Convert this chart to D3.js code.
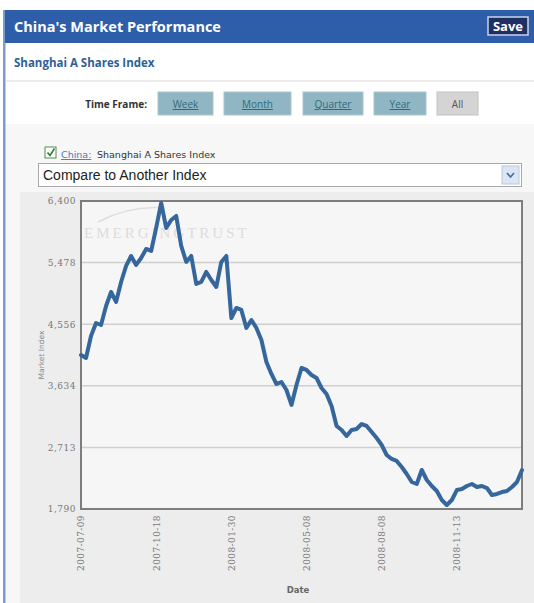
<!DOCTYPE html>
<html><head><meta charset="utf-8">
<script src="https://cdn.jsdelivr.net/npm/d3@7"></script>
<style>
html,body{margin:0;padding:0;background:#fff;}
svg{display:block;}
</style></head>
<body>
<svg id="c" width="534" height="603"></svg>
<script>
// ---- data (weekly samples of the Shanghai A Shares Index) ----
const weekIndex = d3.range(89);
const indexValues = [4095,4050,4380,4574,4544,4829,5038,4889,5188,5428,
 5577,5443,5547,5682,5652,5997,6371,5997,6116,6176,
 5727,5488,5577,5158,5188,5338,5218,5113,5488,5577,
 4649,4799,4769,4500,4619,4500,4320,3991,3811,3661,
 3691,3571,3347,3646,3901,3871,3796,3751,3601,3512,
 3332,3033,2973,2883,2973,2988,3062,3033,2943,2853,
 2748,2598,2539,2509,2419,2314,2194,2164,2374,2224,
 2134,2059,1925,1850,1925,2074,2089,2134,2164,2119,
 2134,2104,2000,2015,2044,2059,2119,2194,2374];
const yTickValues = [1790, 2712, 3634, 4556, 5478, 6400];
const yTickLabels = ["1,790", "2,713", "3,634", "4,556", "5,478", "6,400"];
const xTickIndex = [0, 15, 30, 45, 60, 75];
const xTickLabels = ["2007-07-09", "2007-10-18", "2008-01-30", "2008-05-08", "2008-08-08", "2008-11-13"];
const timeFrames = ["Week", "Month", "Quarter", "Year", "All"];

const svg = d3.select("#c");

// ---- page chrome ----
svg.append("rect").attr("x",0).attr("y",0).attr("width",534).attr("height",603).attr("fill","#ffffff");
svg.append("rect").attr("x",5).attr("y",124).attr("width",529).attr("height",479).attr("fill","#f7f7f7");
svg.append("rect").attr("x",3).attr("y",10).attr("width",2.5).attr("height",593).attr("fill","#7f9cc8");
svg.append("rect").attr("x",5).attr("y",10).attr("width",529).attr("height",33).attr("fill","#2e5ea9");
svg.append("text").attr("x",14).attr("y",32).text("China's Market Performance")
  .attr("font-family","'Open Sans',sans-serif").attr("font-weight","bold").attr("font-size",14.5).attr("fill","#fff");
svg.append("rect").attr("x",488).attr("y",17).attr("width",40).attr("height",18).attr("fill","#1e2f63").attr("stroke","#c9d3e8").attr("stroke-width",1.5);
svg.append("text").attr("x",508).attr("y",31).attr("text-anchor","middle").text("Save")
  .attr("font-family","'Open Sans',sans-serif").attr("font-weight","bold").attr("font-size",13).attr("fill","#fff");

svg.append("text").attr("x",14).attr("y",67).text("Shanghai A Shares Index")
  .attr("font-family","'Open Sans',sans-serif").attr("font-weight","bold").attr("font-size",11.5).attr("fill","#2f5f96");
svg.append("line").attr("x1",5).attr("x2",534).attr("y1",81).attr("y2",81).attr("stroke","#d8d8d8");

svg.append("text").attr("x",147).attr("y",108).attr("text-anchor","end").text("Time Frame:")
  .attr("font-family","'Open Sans',sans-serif").attr("font-weight","bold").attr("font-size",10).attr("fill","#333");
const btnX = [158, 224, 303, 374, 437];
const btnW = [55, 67, 60, 52, 41];
timeFrames.forEach((t,i)=>{
  const g = svg.append("g");
  const isAll = t === "All";
  g.append("rect").attr("x",btnX[i]).attr("y",92).attr("width",btnW[i]).attr("height",23)
    .attr("fill", isAll ? "#d4d4d4" : "#8fb6c2").attr("stroke", isAll ? "#c2c2c2" : "#a9c6cf");
  g.append("text").attr("x",btnX[i]+btnW[i]/2).attr("y",108).attr("text-anchor","middle").text(t)
    .attr("font-family","'Open Sans',sans-serif").attr("font-size",10).attr("fill", isAll ? "#555" : "#2f6b80")
    .attr("text-decoration", isAll ? null : "underline");
});

// checkbox + label
svg.append("rect").attr("x",45).attr("y",147).attr("width",11).attr("height",11).attr("fill","#fff").attr("stroke","#4f8f4f");
svg.append("path").attr("d","M47.5,152.5 L50,155.5 L54.5,148.5").attr("fill","none").attr("stroke","#2e7d32").attr("stroke-width",1.6);
svg.append("text").attr("x",61).attr("y",158).text("China:")
  .attr("font-family","'DejaVu Sans',sans-serif").attr("font-size",9.5).attr("fill","#4a7ab8").attr("text-decoration","underline");
svg.append("text").attr("x",97).attr("y",158).text("Shanghai A Shares Index")
  .attr("font-family","'DejaVu Sans',sans-serif").attr("font-size",9.5).attr("fill","#333");
// select
svg.append("rect").attr("x",38.5).attr("y",163.5).attr("width",483).attr("height",23).attr("fill","#fff").attr("stroke","#a8a8a8");
svg.append("text").attr("x",43).attr("y",180).text("Compare to Another Index")
  .attr("font-family","'Liberation Sans',Arial,sans-serif").attr("font-size",14).attr("fill","#222");
svg.append("rect").attr("x",502).attr("y",166).attr("width",17).attr("height",18).attr("fill","#dbe6f4").attr("stroke","#b7c8e0");
svg.append("path").attr("d","M507,173 L510.5,177 L514,173").attr("fill","none").attr("stroke","#4d6fa3").attr("stroke-width",1.8);

// ---- chart ----
const pLeft = 81, pRight = 522, pTop = 201, pBottom = 509;
svg.append("rect").attr("x",20).attr("y",192).attr("width",514).attr("height",411).attr("fill","#ededed");

const x = d3.scaleLinear().domain([0, 88]).range([pLeft, pRight]);
const y = d3.scaleLinear().domain([1790, 6400]).range([pBottom, pTop]);

svg.append("rect").attr("x",pLeft).attr("y",pTop).attr("width",pRight-pLeft).attr("height",pBottom-pTop).attr("fill","#f6f6f6");

// grid
svg.append("g").selectAll("line").data(yTickValues.slice(1,-1)).join("line")
  .attr("x1",pLeft).attr("x2",pRight).attr("y1",d=>y(d)).attr("y2",d=>y(d))
  .attr("stroke","#cfcfcf").attr("stroke-width",1.5);

// watermark
svg.append("text").attr("x",84).attr("y",238).text("EMERGINGTRUST")
  .attr("font-family","'Liberation Serif',serif").attr("font-size",15).attr("letter-spacing",3).attr("fill","#dcdcdc");
svg.append("path").attr("d","M98,222 Q130,205 165,208").attr("fill","none").attr("stroke","#dedede").attr("stroke-width",1.5);

// y axis
const yAxis = d3.axisLeft(y).tickValues(yTickValues).tickFormat((d,i)=>yTickLabels[i]).tickSize(0).tickPadding(5);
const ya = svg.append("g").attr("transform",`translate(${pLeft},0)`).call(yAxis);
ya.select(".domain").remove();
ya.selectAll("text").attr("font-family","'DejaVu Serif',serif").attr("font-size",9).attr("letter-spacing",0.5).attr("fill","#777");

// x axis
const xAxis = d3.axisBottom(x).tickValues(xTickIndex).tickFormat((d,i)=>xTickLabels[i]).tickSize(0);
const xa = svg.append("g").attr("transform",`translate(0,${pBottom})`).call(xAxis);
xa.select(".domain").remove();
xa.selectAll("text").attr("font-family","'DejaVu Serif',serif").attr("font-size",9).attr("letter-spacing",0.4).attr("fill","#777")
  .attr("transform","rotate(-90)").attr("text-anchor","end").attr("dy","0.32em").attr("x",-6).attr("y",0);

// plot border
svg.append("rect").attr("x",pLeft).attr("y",pTop).attr("width",pRight-pLeft).attr("height",pBottom-pTop)
  .attr("fill","none").attr("stroke","#7d7d7d").attr("stroke-width",2);

// line
const line = d3.line().x((d,i)=>x(weekIndex[i])).y(d=>y(d)).curve(d3.curveLinear);
svg.append("path").datum(indexValues).attr("d",line).attr("fill","none")
  .attr("stroke","#35679c").attr("stroke-width",4).attr("stroke-linejoin","round").attr("stroke-linecap","round");

// axis titles
svg.append("text").attr("transform","translate(44,355) rotate(-90)").attr("text-anchor","middle").text("Market Index")
  .attr("font-family","'DejaVu Sans',sans-serif").attr("font-size",7.5).attr("fill","#888");
svg.append("text").attr("x",298).attr("y",593).attr("text-anchor","middle").text("Date")
  .attr("font-family","'DejaVu Sans',sans-serif").attr("font-weight","bold").attr("font-size",8.5).attr("fill","#666");
</script>
</body></html>
